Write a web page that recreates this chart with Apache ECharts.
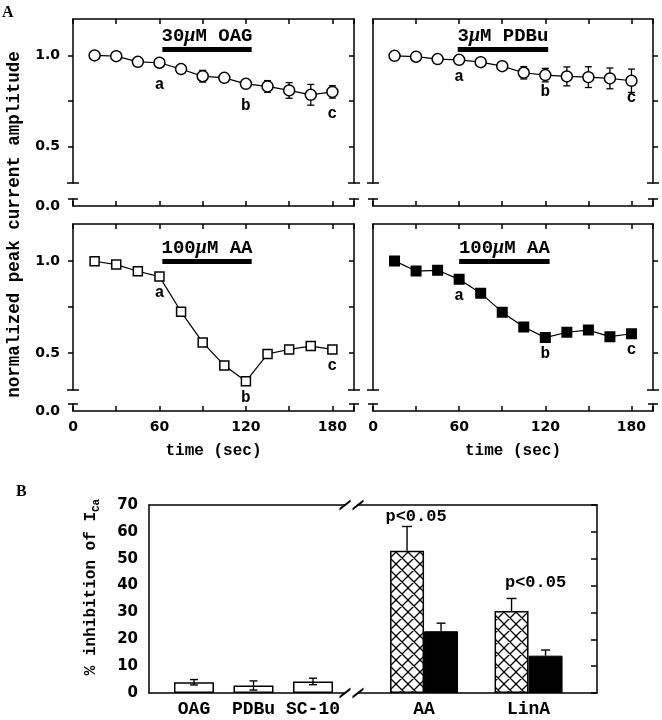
<!DOCTYPE html>
<html><head><meta charset="utf-8">
<script src="https://cdn.jsdelivr.net/npm/echarts@6/dist/echarts.min.js"></script>
<style>html,body{margin:0;padding:0;background:#fff}#c{width:662px;height:720px}</style>
</head><body><div id="c"></div>
<script>
// ---------------- data ----------------
const timeSec = [15,30,45,60,75,90,105,120,135,150,165,180];
const oagMean = [1.0,0.996,0.965,0.96,0.925,0.886,0.877,0.844,0.83,0.808,0.784,0.80];
const oagErr  = [0.005,0.008,0.01,0.012,0.015,0.032,0.015,0.015,0.032,0.043,0.057,0.034];
const pdbuMean = [0.998,0.993,0.98,0.976,0.963,0.941,0.905,0.892,0.885,0.881,0.874,0.861];
const pdbuErr  = [0.004,0.006,0.008,0.01,0.012,0.015,0.034,0.037,0.052,0.057,0.057,0.064];
const aaOpenMean   = [0.998,0.98,0.944,0.915,0.724,0.558,0.433,0.347,0.495,0.52,0.538,0.52];
const aaFilledMean = [1.0,0.945,0.949,0.9,0.825,0.722,0.642,0.584,0.613,0.625,0.589,0.605];
const pointLetters = ['','','','a','','','','b','','','','c'];
const panelTitles = ['30μM OAG','3μM PDBu','100μM AA','100μM AA'];
const treatStart = [62,59,62,60];
const treatEnd   = [124,122,124,123];
const treatLevel = [1.035,1.035,1.0,1.0];
const timeTickLabels = [0,60,120,180];
const ampTickLabels = [0.5,1.0];
const ampTicks = [0.5,0.75,1.0];
const ampZeroLabel = [0];

const bCatsLeft = ['OAG','PDBu','SC-10'];
const bLeftMean = [4.0,2.8,4.3];
const bLeftErr  = [1.0,1.7,1.2];
const bCatsRight = ['AA','LinA'];
const bHatchMean = [53,30.5];
const bHatchErr  = [9,4.7];
const bSolidMean = [23,13.9];
const bSolidErr  = [3,2.1];
const sigText = ['p<0.05','p<0.05'];

// ---------------- styles / layout ----------------
const MONO = '"Liberation Mono","DejaVu Sans Mono",monospace';
const SANS = '"DejaVu Sans","Liberation Sans",sans-serif';
const LS = {color:'#000', width:1.5};
const colLeft = [73,373], colWidth = [281,280];
const rowTop = [19,224], rowUpH = [164,166], rowLowTop = [199,404], lowH = 7;
const upMax = [1.2,1.2];
const lowMax = 7/182;

const panels = [
  {mean:oagMean, err:oagErr, symbol:'circle', size:11, fill:'#fff', col:0, row:0, ld:8},
  {mean:pdbuMean, err:pdbuErr, symbol:'circle', size:11, fill:'#fff', col:1, row:0, ld:3},
  {mean:aaOpenMean, err:null, symbol:'rect', size:9, fill:'#fff', col:0, row:1, ld:3},
  {mean:aaFilledMean, err:null, symbol:'rect', size:9.5, fill:'#000', col:1, row:1, ld:3}
];

function hatchCanvas(){
  const n=12, c=document.createElement('canvas'); c.width=n; c.height=n;
  const g=c.getContext('2d'); g.fillStyle='#fff'; g.fillRect(0,0,n,n);
  g.strokeStyle='#000'; g.lineWidth=1.3; g.beginPath();
  for(const k of [-n,0,n]){ g.moveTo(-2+k,-2); g.lineTo(n+2+k,n+2); g.moveTo(-2+k,n+2); g.lineTo(n+2+k,-2); }
  g.stroke(); return c;
}

function errA(params, api){
  const x=api.value(0), m=api.value(1), e=api.value(2);
  const a=api.coord([x,m+e]), b=api.coord([x,m-e]); const hw=3.5;
  const st={stroke:'#000', lineWidth:1.3};
  return {type:'group', children:[
    {type:'line', shape:{x1:a[0],y1:a[1],x2:b[0],y2:b[1]}, style:st},
    {type:'line', shape:{x1:a[0]-hw,y1:a[1],x2:a[0]+hw,y2:a[1]}, style:st},
    {type:'line', shape:{x1:b[0]-hw,y1:b[1],x2:b[0]+hw,y2:b[1]}, style:st}]};
}
function errB(dx, both, hw){
  return function(params, api){
    const x=api.value(0), m=api.value(1), e=api.value(2);
    const a=api.coord([x,m+e]), b=api.coord([x, both? m-e : m]);
    const st={stroke:'#000', lineWidth:1.4};
    const ch=[{type:'line', shape:{x1:a[0]+dx,y1:a[1],x2:b[0]+dx,y2:b[1]}, style:st},
              {type:'line', shape:{x1:a[0]+dx-hw,y1:a[1],x2:a[0]+dx+hw,y2:a[1]}, style:st}];
    if(both) ch.push({type:'line', shape:{x1:b[0]+dx-hw,y1:b[1],x2:b[0]+dx+hw,y2:b[1]}, style:st});
    return {type:'group', children:ch};
  };
}

const grid=[], xAxis=[], yAxis=[], series=[];
panels.forEach((p,pi)=>{
  const L=colLeft[p.col], W=colWidth[p.col];
  const gUp=grid.length; grid.push({left:L, top:rowTop[p.row], width:W, height:rowUpH[p.row], outerBoundsMode:'none'});
  const gLow=grid.length; grid.push({left:L, top:rowLowTop[p.row], width:W, height:lowH, outerBoundsMode:'none'});
  const xUp=xAxis.length;
  xAxis.push({gridIndex:gUp, type:'value', min:0, max:195, interval:30, position:'top',
    axisLine:{show:true,onZero:false,lineStyle:LS}, axisTick:{show:true,inside:true,length:5,lineStyle:LS},
    axisLabel:{show:false}, splitLine:{show:false}});
  const xLow=xAxis.length;
  xAxis.push({gridIndex:gLow, type:'value', min:0, max:195, interval:30, position:'bottom',
    axisLine:{show:true,onZero:false,lineStyle:LS}, axisTick:{show:true,inside:true,length:5,lineStyle:LS},
    axisLabel:{show:p.row===1, margin:9, formatter:v=>timeTickLabels.includes(v)?String(v):'',
      color:'#000', fontFamily:SANS, fontWeight:'bold', fontSize:14},
    name: p.row===1 ? 'time (sec)' : '', nameLocation:'middle', nameGap:32, nameMoveOverlap:false,
    nameTextStyle:{color:'#000', fontFamily:MONO, fontWeight:'bold', fontSize:16},
    splitLine:{show:false}});
  const yUpL=yAxis.length;
  yAxis.push({gridIndex:gUp, type:'value', min:0.3, max:upMax[p.row], position:'left',
    axisLine:{show:true,onZero:false,lineStyle:LS,symbol:['rect','none'],symbolSize:[12,1.5]},
    axisTick:{show:p.col===0,inside:false,length:5,customValues:ampTicks,lineStyle:LS},
    axisLabel:{show:p.col===0,customValues:ampTickLabels,formatter:v=>v.toFixed(1),margin:13,
      color:'#000',fontFamily:SANS,fontWeight:'bold',fontSize:14},
    splitLine:{show:false}});
  yAxis.push({gridIndex:gUp, type:'value', min:0.3, max:upMax[p.row], position:'right',
    axisLine:{show:true,onZero:false,lineStyle:LS,symbol:['rect','none'],symbolSize:[12,1.5]},
    axisTick:{show:true,inside:p.col===0,length:5,customValues:ampTicks,lineStyle:LS},
    axisLabel:{show:false}, splitLine:{show:false}});
  yAxis.push({gridIndex:gLow, type:'value', min:0, max:lowMax, position:'left',
    axisLine:{show:true,onZero:false,lineStyle:LS,symbol:['none','rect'],symbolSize:[10,1.5]},
    axisTick:{show:false},
    axisLabel:{show:p.col===0,customValues:ampZeroLabel,formatter:v=>v.toFixed(1),margin:13,
      color:'#000',fontFamily:SANS,fontWeight:'bold',fontSize:14, padding:[0,0,p.row===0?4:0,0]},
    splitLine:{show:false}});
  yAxis.push({gridIndex:gLow, type:'value', min:0, max:lowMax, position:'right',
    axisLine:{show:true,onZero:false,lineStyle:LS,symbol:['none','rect'],symbolSize:[10,1.5]},
    axisTick:{show:false}, axisLabel:{show:false}, splitLine:{show:false}});

  if(p.err){
    series.push({type:'custom', xAxisIndex:xUp, yAxisIndex:yUpL, z:2, silent:true,
      data: timeSec.map((t,i)=>[t,p.mean[i],p.err[i]]), renderItem: errA});
  }
  const title = panelTitles[pi].replace('μ','{mu|μ}');
  series.push({type:'line', xAxisIndex:xUp, yAxisIndex:yUpL, z:3, silent:true,
    data: timeSec.map((t,i)=>[t,p.mean[i]]),
    symbol:p.symbol, symbolSize:p.size, showAllSymbol:true,
    itemStyle:{color:p.fill, borderColor:'#000', borderWidth:1.5, opacity:1},
    lineStyle:{color:'#000', width:1.2},
    label:{show:true, position:'bottom', distance:p.ld, formatter:q=>pointLetters[q.dataIndex],
      color:'#000', fontFamily:MONO, fontWeight:'bold', fontSize:16},
    markLine:{silent:true, symbol:['none','none'], animation:false,
      lineStyle:{color:'#000', width:5, type:'solid'},
      label:{show:true, position:'insideMiddleTop', distance:3, formatter:title,
        color:'#000', fontFamily:MONO, fontWeight:'bold', fontSize:19,
        rich:{mu:{fontFamily:'"Liberation Serif",serif', fontStyle:'italic', fontWeight:'bold', fontSize:20, color:'#000'}}},
      data:[[{coord:[treatStart[pi],treatLevel[pi]]},{coord:[treatEnd[pi],treatLevel[pi]]}]]}
  });
});

// ---------------- panel B ----------------
const slash = 'path://M0,0L2.2,0L10,10L7.8,10Z';
const gBL=grid.length; grid.push({left:149, top:505, width:196, height:188, outerBoundsMode:'none'});
const gBR=grid.length; grid.push({left:358, top:505, width:239, height:188, outerBoundsMode:'none'});
const leftMin=0.244, leftMax=3.538, rightMin=0.368, rightMax=2.655;
const xBL=xAxis.length;
xAxis.push({gridIndex:gBL, type:'value', min:leftMin, max:leftMax, position:'bottom',
  axisLine:{show:true,onZero:false,lineStyle:LS,symbol:['none',slash],symbolSize:[11,11]},
  axisTick:{show:false}, splitLine:{show:false},
  axisLabel:{customValues:[1,2,3], formatter:v=>bCatsLeft[Math.round(v)-1], margin:7,
    color:'#000', fontFamily:MONO, fontWeight:'bold', fontSize:18}});
xAxis.push({gridIndex:gBL, type:'value', min:leftMin, max:leftMax, position:'top',
  axisLine:{show:true,onZero:false,lineStyle:LS,symbol:['none',slash],symbolSize:[11,11]},
  axisTick:{show:false}, axisLabel:{show:false}, splitLine:{show:false}});
const xBR=xAxis.length;
xAxis.push({gridIndex:gBR, type:'value', min:rightMin, max:rightMax, position:'bottom',
  axisLine:{show:true,onZero:false,lineStyle:LS,symbol:[slash,'none'],symbolSize:[11,11]},
  axisTick:{show:false}, splitLine:{show:false},
  axisLabel:{customValues:[1,2], formatter:v=>bCatsRight[Math.round(v)-1], margin:7,
    color:'#000', fontFamily:MONO, fontWeight:'bold', fontSize:18}});
xAxis.push({gridIndex:gBR, type:'value', min:rightMin, max:rightMax, position:'top',
  axisLine:{show:true,onZero:false,lineStyle:LS,symbol:[slash,'none'],symbolSize:[11,11]},
  axisTick:{show:false}, axisLabel:{show:false}, splitLine:{show:false}});
const yBL=yAxis.length;
yAxis.push({gridIndex:gBL, type:'value', min:0, max:70, interval:10, position:'left',
  axisLine:{show:true,onZero:false,lineStyle:LS}, axisTick:{show:false}, splitLine:{show:false},
  axisLabel:{margin:11, color:'#000', fontFamily:SANS, fontWeight:'bold', fontSize:15},
  name:'% inhibition of I{sub|Ca}', nameLocation:'middle', nameGap:47, nameMoveOverlap:false,
  nameTextStyle:{color:'#000', fontFamily:MONO, fontWeight:'bold', fontSize:16, lineHeight:22, padding:[0,0,0,24],
    rich:{sub:{fontFamily:MONO, fontWeight:'bold', fontSize:11, lineHeight:10, verticalAlign:'bottom', color:'#000'}}}});
const yBR=yAxis.length;
yAxis.push({gridIndex:gBR, type:'value', min:0, max:70, interval:10, position:'right',
  axisLine:{show:true,onZero:false,lineStyle:LS}, axisTick:{show:true,inside:true,length:6,lineStyle:LS},
  axisLabel:{show:false}, splitLine:{show:false}});

const sigOffset = [[9,-25],[24,-20]];
series.push({type:'bar', xAxisIndex:xBL, yAxisIndex:yBL, barWidth:40, silent:true, z:2,
  data: bLeftMean.map((v,i)=>[i+1,v]),
  itemStyle:{color:'#fff', borderColor:'#000', borderWidth:1.5}});
series.push({type:'bar', xAxisIndex:xBR, yAxisIndex:yBR, barWidth:34, barGap:'0%', silent:true, z:2,
  data: bHatchMean.map((v,i)=>({value:[i+1,v], label:{offset:sigOffset[i]}})),
  itemStyle:{color:{image:hatchCanvas(), repeat:'repeat'}, borderColor:'#000', borderWidth:1.5},
  label:{show:true, position:'top', distance:0, formatter:q=>sigText[q.dataIndex],
    color:'#000', fontFamily:MONO, fontWeight:'bold', fontSize:17}});
series.push({type:'bar', xAxisIndex:xBR, yAxisIndex:yBR, barWidth:34, barGap:'0%', silent:true, z:2,
  data: bSolidMean.map((v,i)=>[i+1,v]),
  itemStyle:{color:'#000', borderColor:'#000', borderWidth:1}});
series.push({type:'custom', xAxisIndex:xBL, yAxisIndex:yBL, z:3, silent:true,
  data: bLeftMean.map((v,i)=>[i+1,v,bLeftErr[i]]), renderItem: errB(0,true,4)});
series.push({type:'custom', xAxisIndex:xBR, yAxisIndex:yBR, z:3, silent:true,
  data: bHatchMean.map((v,i)=>[i+1,v,bHatchErr[i]]), renderItem: errB(-17,false,5)});
series.push({type:'custom', xAxisIndex:xBR, yAxisIndex:yBR, z:3, silent:true,
  data: bSolidMean.map((v,i)=>[i+1,v,bSolidErr[i]]), renderItem: errB(17,false,4.5)});

const chart = echarts.init(document.getElementById('c'), null, {renderer:'canvas'});
chart.setOption({
  animation:false, backgroundColor:'#fff',
  grid, xAxis, yAxis, series,
  graphic:[
    {type:'text', x:2, y:5, style:{text:'A', fill:'#000', font:'bold 16px "Liberation Serif",serif'}},
    {type:'text', x:16, y:484, style:{text:'B', fill:'#000', font:'bold 16px "Liberation Serif",serif'}},
    {type:'text', x:15, y:224.5, rotation:Math.PI/2,
      style:{text:'normalized peak current amplitude', fill:'#000', font:'bold 17.5px "Liberation Mono",monospace',
        textAlign:'center', textVerticalAlign:'middle', align:'center', verticalAlign:'middle'}}
  ]
});
</script></body></html>
